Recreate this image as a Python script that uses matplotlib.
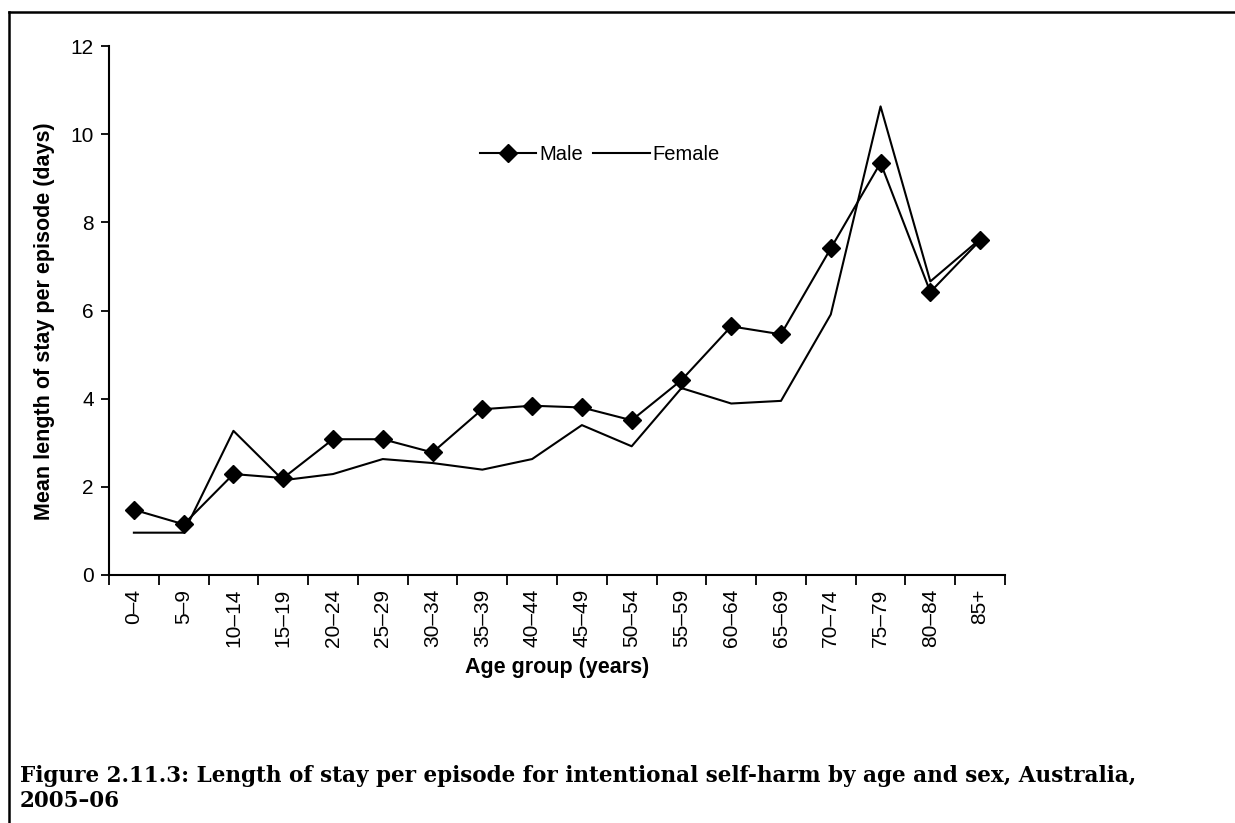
import matplotlib
matplotlib.use('Agg')
from matplotlib import pyplot as plt
from matplotlib.lines import Line2D
import numpy as np

age_groups = ['0–4', '5–9', '10–14', '15–19', '20–24', '25–29', '30–34', '35–39', '40–44',
              '45–49', '50–54', '55–59', '60–64', '65–69', '70–74', '75–79', '80–84', '85+']
male = [1.48, 1.15, 2.29, 2.20, 3.08, 3.08, 2.78, 3.76, 3.84,
        3.80, 3.51, 4.42, 5.64, 5.46, 7.41, 9.35, 6.42, 7.59]
female = [0.96, 0.96, 3.27, 2.15, 2.29, 2.63, 2.54, 2.39, 2.63,
          3.40, 2.92, 4.24, 3.89, 3.95, 5.91, 10.63, 6.66, 7.62]

W, H = 1235, 823
plt.rcParams['font.family'] = ['Liberation Sans', 'DejaVu Sans']

fig = plt.figure(figsize=(W / 100, H / 100), dpi=100)
ax = fig.add_axes([109 / W, 1 - 575 / H, (1005 - 109) / W, (575 - 46) / H])

x = np.arange(len(age_groups))
ax.plot(x, male, color='black', lw=1.5, marker='D', markersize=9, label='Male')
ax.plot(x, female, color='black', lw=1.5, label='Female')

ax.set_xlim(-0.5, len(age_groups) - 0.5)
ax.set_ylim(0, 12)
ax.set_yticks(range(0, 13, 2))
ax.tick_params(axis='y', direction='out', length=6, width=1.3, labelsize=15, pad=5)
ax.set_xticks(np.arange(-0.5, len(age_groups), 1))
ax.set_xticklabels([])
ax.tick_params(axis='x', which='major', direction='out', length=7, width=1.3)
ax.set_xticks(x, minor=True)
ax.set_xticklabels(age_groups, minor=True, rotation=90, fontsize=15)
ax.tick_params(axis='x', which='minor', length=0, pad=10)
for s in ['top', 'right']:
    ax.spines[s].set_visible(False)
for s in ['left', 'bottom']:
    ax.spines[s].set_linewidth(1.5)

fig.text(45 / W, 1 - 321 / H, 'Mean length of stay per episode (days)', rotation=90,
         ha='center', va='center', fontsize=15.5, fontweight='bold')
fig.text(557 / W, 1 - 668 / H, 'Age group (years)', ha='center', va='center',
         fontsize=15.5, fontweight='bold')

ax.legend(loc='center left', bbox_to_anchor=(480 / W, 1 - 155 / H), bbox_transform=fig.transFigure,
          ncol=2, frameon=False, fontsize=14.5, handlelength=2.8, handletextpad=0.15,
          columnspacing=0.5, borderpad=0, borderaxespad=0)

serif = ['DejaVu Serif', 'Liberation Serif']
fig.text(20 / W, 1 - 782 / H, 'Figure 2.11.3: Length of stay per episode for intentional self-harm by age and sex, Australia,',
         ha='left', va='baseline', fontsize=15.5, fontweight='bold', family=serif)
fig.text(20 / W, 1 - 807 / H, '2005–06', ha='left', va='baseline', fontsize=15.5, fontweight='bold',
         family=serif)

# frame lines: left and top
fig.add_artist(Line2D([9 / W, 9 / W], [0, 1 - 12 / H], color='black', lw=1.8, transform=fig.transFigure))
fig.add_artist(Line2D([9 / W, 1], [1 - 12 / H, 1 - 12 / H], color='black', lw=1.8, transform=fig.transFigure))

fig.savefig('out.png', dpi=100)
